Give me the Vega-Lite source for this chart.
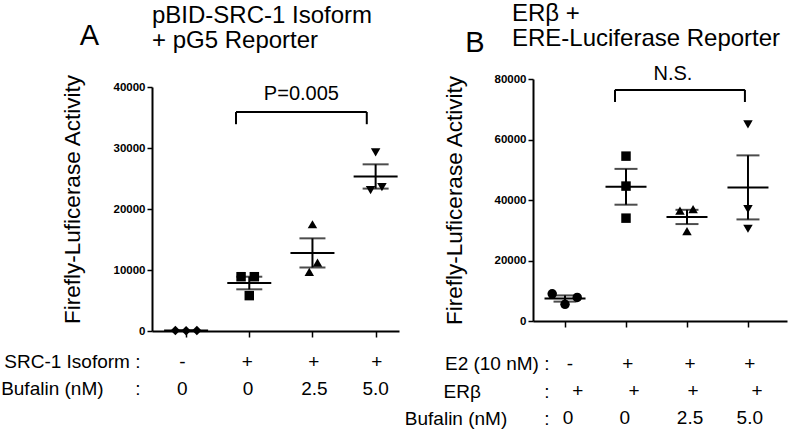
{
  "$schema": "https://vega.github.io/schema/vega-lite/v6.json",
  "background": "white",
  "padding": {"left": 0, "top": 2, "right": 5, "bottom": 0},
  "config": {
    "font": "Liberation Sans",
    "view": {"stroke": null},
    "axis": {"domainColor": "black", "domainWidth": 2, "tickColor": "black", "tickWidth": 1.5, "grid": false, "labelColor": "black", "titleColor": "black"},
    "title": {"color": "black", "fontWeight": "normal"}
  },
  "datasets": {
    "a_pts": [
      {"g": 1, "xp": 0.83, "v": 80}, {"g": 1, "xp": 1.0, "v": 60}, {"g": 1, "xp": 1.17, "v": 100},
      {"g": 2, "xp": 1.87, "v": 8900}, {"g": 2, "xp": 2.08, "v": 8900}, {"g": 2, "xp": 2.0, "v": 5800},
      {"g": 3, "xp": 3.0, "v": 17500}, {"g": 3, "xp": 3.08, "v": 11200}, {"g": 3, "xp": 2.95, "v": 9700},
      {"g": 4, "xp": 4.0, "v": 29300}, {"g": 4, "xp": 3.92, "v": 23100}, {"g": 4, "xp": 4.1, "v": 23600}
    ],
    "a_brk": [
      {"x1": 1.79, "x2": 3.86, "y1": 35900, "y2": 35900},
      {"x1": 1.79, "x2": 1.79, "y1": 35900, "y2": 33900},
      {"x1": 3.86, "x2": 3.86, "y1": 35900, "y2": 33900}
    ],
    "a_note": [{"x": 2.825, "y": 38850, "t": "P=0.005"}],
    "a_tab": [
      {"row": "SRC-1 Isoform :", "x": 0.94, "t": "-"},
      {"row": "SRC-1 Isoform :", "x": 1.97, "t": "+"},
      {"row": "SRC-1 Isoform :", "x": 3.02, "t": "+"},
      {"row": "SRC-1 Isoform :", "x": 4.02, "t": "+"},
      {"row": "Bufalin (nM)\u00a0\u00a0\u00a0\u00a0\u00a0\u00a0:", "x": 0.94, "t": "0"},
      {"row": "Bufalin (nM)\u00a0\u00a0\u00a0\u00a0\u00a0\u00a0:", "x": 1.98, "t": "0"},
      {"row": "Bufalin (nM)\u00a0\u00a0\u00a0\u00a0\u00a0\u00a0:", "x": 3.03, "t": "2.5"},
      {"row": "Bufalin (nM)\u00a0\u00a0\u00a0\u00a0\u00a0\u00a0:", "x": 4.0, "t": "5.0"}
    ],
    "b_pts": [
      {"g": 1, "xp": 0.79, "v": 9000}, {"g": 1, "xp": 1.0, "v": 5500}, {"g": 1, "xp": 1.2, "v": 7800},
      {"g": 2, "xp": 2.0, "v": 54500}, {"g": 2, "xp": 2.0, "v": 44600}, {"g": 2, "xp": 2.0, "v": 34000},
      {"g": 3, "xp": 2.885, "v": 36500}, {"g": 3, "xp": 3.1, "v": 37000}, {"g": 3, "xp": 3.0, "v": 29700},
      {"g": 4, "xp": 4.0, "v": 65000}, {"g": 4, "xp": 4.0, "v": 37000}, {"g": 4, "xp": 4.0, "v": 30500}
    ],
    "b_brk": [
      {"x1": 1.82, "x2": 3.95, "y1": 76400, "y2": 76400},
      {"x1": 1.82, "x2": 1.82, "y1": 76400, "y2": 72400},
      {"x1": 3.95, "x2": 3.95, "y1": 76400, "y2": 72400}
    ],
    "b_note": [{"x": 2.77, "y": 81600, "t": "N.S."}],
    "b_tab": [
      {"row": "E2 (10 nM) :", "x": 1.08, "t": "-"},
      {"row": "E2 (10 nM) :", "x": 2.03, "t": "+"},
      {"row": "E2 (10 nM) :", "x": 3.05, "t": "+"},
      {"row": "E2 (10 nM) :", "x": 4.03, "t": "+"},
      {"row": "ERβ\u00a0\u00a0\u00a0\u00a0\u00a0\u00a0\u00a0\u00a0\u00a0\u00a0\u00a0\u00a0:", "x": 1.21, "t": "+"},
      {"row": "ERβ\u00a0\u00a0\u00a0\u00a0\u00a0\u00a0\u00a0\u00a0\u00a0\u00a0\u00a0\u00a0:", "x": 2.13, "t": "+"},
      {"row": "ERβ\u00a0\u00a0\u00a0\u00a0\u00a0\u00a0\u00a0\u00a0\u00a0\u00a0\u00a0\u00a0:", "x": 3.1, "t": "+"},
      {"row": "ERβ\u00a0\u00a0\u00a0\u00a0\u00a0\u00a0\u00a0\u00a0\u00a0\u00a0\u00a0\u00a0:", "x": 4.15, "t": "+"},
      {"row": "Bufalin (nM)\u00a0\u00a0\u00a0\u00a0\u00a0\u00a0\u00a0:", "x": 1.05, "t": "0"},
      {"row": "Bufalin (nM)\u00a0\u00a0\u00a0\u00a0\u00a0\u00a0\u00a0:", "x": 1.98, "t": "0"},
      {"row": "Bufalin (nM)\u00a0\u00a0\u00a0\u00a0\u00a0\u00a0\u00a0:", "x": 3.05, "t": "2.5"},
      {"row": "Bufalin (nM)\u00a0\u00a0\u00a0\u00a0\u00a0\u00a0\u00a0:", "x": 4.03, "t": "5.0"}
    ]
  },
  "columns": 2,
  "align": "none",
  "spacing": 5,
  "resolve": {"scale": {"shape": "independent", "x": "independent", "y": "independent"}},
  "concat": [
    {
      "title": {"text": "A", "fontSize": 29, "anchor": "start", "dx": 79, "dy": 51},
      "spacing": 10,
      "vconcat": [
        {
          "width": 247,
          "height": 252,
          "title": {"text": ["pBID-SRC-1 Isoform", "+ pG5 Reporter"], "fontSize": 24, "anchor": "start", "lineHeight": 25, "offset": 21, "frame": "group"},
          "layer": [
            {
              "data": {"name": "a_pts"},
              "mark": {"type": "point", "filled": true, "size": 90, "color": "black", "opacity": 1},
              "encoding": {
                "x": {"field": "xp", "type": "quantitative", "scale": {"domain": [0.46, 4.37], "nice": false, "zero": false},
                      "axis": {"values": [1, 2, 3, 4], "labels": false, "tickSize": 6, "title": null}},
                "y": {"field": "v", "type": "quantitative", "scale": {"domain": [0, 40000], "nice": false, "range": [252, 8]},
                      "title": "Firefly-Luficerase Activity",
                      "axis": {"values": [0, 10000, 20000, 30000, 40000], "format": "d", "labelFontSize": 11.5, "labelFontWeight": "bold", "tickSize": 5, "labelPadding": 2, "titleFontSize": 22.5, "titleFontWeight": "normal", "titlePadding": 29, "titleY": 120}},
                "shape": {"field": "g", "type": "nominal", "legend": null,
                          "scale": {"domain": [1, 2, 3, 4], "range": ["diamond", "square", "triangle-up", "triangle-down"]}}
              }
            },
            {
              "data": {"name": "a_pts"},
              "mark": {"type": "tick", "orient": "horizontal", "size": 44, "thickness": 2, "color": "black", "opacity": 1},
              "encoding": {
                "x": {"field": "g", "type": "quantitative", "title": null},
                "y": {"aggregate": "mean", "field": "v", "type": "quantitative", "title": "Firefly-Luficerase Activity"}
              }
            },
            {
              "data": {"name": "a_pts"},
              "mark": {"type": "errorbar", "extent": "stderr", "orient": "vertical", "color": "black",
                       "rule": {"strokeWidth": 2}, "ticks": {"size": 26, "thickness": 2, "color": "black"}},
              "encoding": {
                "x": {"field": "g", "type": "quantitative", "title": null},
                "y": {"field": "v", "type": "quantitative", "title": "Firefly-Luficerase Activity"}
              }
            },
            {
              "data": {"name": "a_brk"},
              "mark": {"type": "rule", "strokeWidth": 2, "color": "black"},
              "encoding": {
                "x": {"field": "x1", "type": "quantitative", "title": null},
                "x2": {"field": "x2"},
                "y": {"field": "y1", "type": "quantitative", "title": "Firefly-Luficerase Activity"},
                "y2": {"field": "y2"}
              }
            },
            {
              "data": {"name": "a_note"},
              "mark": {"type": "text", "fontSize": 20, "color": "black"},
              "encoding": {
                "x": {"field": "x", "type": "quantitative", "title": null},
                "y": {"field": "y", "type": "quantitative", "title": "Firefly-Luficerase Activity"},
                "text": {"field": "t"}
              }
            }
          ]
        },
        {
          "width": 247,
          "height": 54,
          "data": {"name": "a_tab"},
          "mark": {"type": "text", "fontSize": 19, "color": "black"},
          "encoding": {
            "x": {"field": "x", "type": "quantitative", "scale": {"domain": [0.46, 4.37], "nice": false, "zero": false}, "axis": null},
            "y": {"field": "row", "type": "nominal", "sort": null,
                  "axis": {"title": null, "domain": false, "ticks": false, "labelFontSize": 19, "labelPadding": 12, "labelColor": "black"}},
            "text": {"field": "t"}
          }
        }
      ]
    },
    {
      "title": {"text": "B", "fontSize": 29, "anchor": "start", "dx": 61, "dy": 60},
      "spacing": 22,
      "vconcat": [
        {
          "width": 254,
          "height": 242,
          "title": {"text": ["ERβ +", "ERE-Luciferase Reporter"], "fontSize": 24, "anchor": "start", "lineHeight": 25, "offset": 13, "frame": "group", "dx": -21},
          "layer": [
            {
              "data": {"name": "b_pts"},
              "mark": {"type": "point", "filled": true, "size": 90, "color": "black", "opacity": 1},
              "encoding": {
                "x": {"field": "xp", "type": "quantitative", "scale": {"domain": [0.475, 4.64], "nice": false, "zero": false},
                      "axis": {"values": [1, 2, 3, 4], "labels": false, "tickSize": 6, "title": null}},
                "y": {"field": "v", "type": "quantitative", "scale": {"domain": [0, 80000], "nice": false},
                      "title": "Firefly-Luficerase Activity",
                      "axis": {"values": [0, 20000, 40000, 60000, 80000], "format": "d", "labelFontSize": 11.5, "labelFontWeight": "bold", "tickSize": 5, "labelPadding": 2, "titleFontSize": 22.5, "titleFontWeight": "normal", "titlePadding": 28}},
                "shape": {"field": "g", "type": "nominal", "legend": null,
                          "scale": {"domain": [1, 2, 3, 4], "range": ["circle", "square", "triangle-up", "triangle-down"]}}
              }
            },
            {
              "data": {"name": "b_pts"},
              "mark": {"type": "tick", "orient": "horizontal", "size": 41, "thickness": 2, "color": "black", "opacity": 1},
              "encoding": {
                "x": {"field": "g", "type": "quantitative", "title": null},
                "y": {"aggregate": "mean", "field": "v", "type": "quantitative", "title": "Firefly-Luficerase Activity"}
              }
            },
            {
              "data": {"name": "b_pts"},
              "mark": {"type": "errorbar", "extent": "stderr", "orient": "vertical", "color": "black",
                       "rule": {"strokeWidth": 2}, "ticks": {"size": 23, "thickness": 2, "color": "black"}},
              "encoding": {
                "x": {"field": "g", "type": "quantitative", "title": null},
                "y": {"field": "v", "type": "quantitative", "title": "Firefly-Luficerase Activity"}
              }
            },
            {
              "data": {"name": "b_brk"},
              "mark": {"type": "rule", "strokeWidth": 2, "color": "black"},
              "encoding": {
                "x": {"field": "x1", "type": "quantitative", "title": null},
                "x2": {"field": "x2"},
                "y": {"field": "y1", "type": "quantitative", "title": "Firefly-Luficerase Activity"},
                "y2": {"field": "y2"}
              }
            },
            {
              "data": {"name": "b_note"},
              "mark": {"type": "text", "fontSize": 20, "color": "black"},
              "encoding": {
                "x": {"field": "x", "type": "quantitative", "title": null},
                "y": {"field": "y", "type": "quantitative", "title": "Firefly-Luficerase Activity"},
                "text": {"field": "t"}
              }
            }
          ]
        },
        {
          "width": 254,
          "height": 82,
          "data": {"name": "b_tab"},
          "mark": {"type": "text", "fontSize": 19, "color": "black"},
          "encoding": {
            "x": {"field": "x", "type": "quantitative", "scale": {"domain": [0.475, 4.64], "nice": false, "zero": false}, "axis": null},
            "y": {"field": "row", "type": "nominal", "sort": null,
                  "axis": {"title": null, "domain": false, "ticks": false, "labelFontSize": 19, "labelPadding": 2, "offset": -18, "labelColor": "black"}},
            "text": {"field": "t"}
          }
        }
      ]
    }
  ]
}
